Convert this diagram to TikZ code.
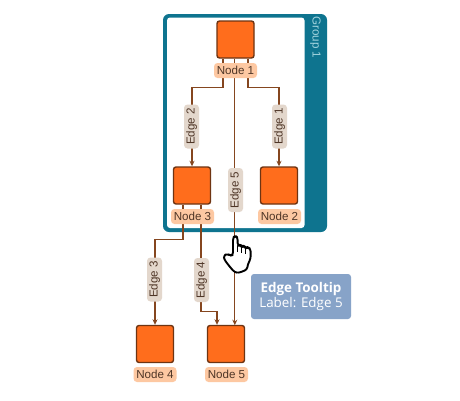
\documentclass[tikz,border=0pt]{standalone}
\usepackage{fontspec}
\setmainfont{Liberation Sans}
\newfontfamily\tipfont{Open Sans}
\usetikzlibrary{arrows.meta,calc}
\pgfdeclarelayer{grouplayer}\pgfdeclarelayer{edgelayer}\pgfdeclarelayer{toplayer}
\pgfsetlayers{grouplayer,edgelayer,main,toplayer}
\definecolor{teal1}{HTML}{0E748F}
\definecolor{teallabel}{HTML}{A3D4DE}
\definecolor{orangefill}{HTML}{FF6D1C}
\definecolor{orangeline}{HTML}{6E3412}
\definecolor{labelfill}{HTML}{FDC8A2}
\definecolor{labeltext}{HTML}{4E3526}
\definecolor{edgefill}{HTML}{E3D7CC}
\definecolor{edgeline}{HTML}{85461F}
\definecolor{tipfill}{HTML}{87A3C8}
\tikzset{
 vertexbox/.style={draw=orangeline,fill=orangefill,line width=1.4pt,rounded corners=2.5pt,minimum width=37pt,minimum height=37pt,inner sep=0pt},
 vertexlabel/.style={fill=labelfill,text=labeltext,rounded corners=3.5pt,minimum width=43pt,minimum height=15pt,inner sep=0pt,font=\fontsize{11.6}{12}\selectfont},
 edgelabel/.style={fill=edgefill,text=labeltext,rounded corners=3.5pt,rotate=90,minimum height=15pt,minimum width=44pt,inner sep=0pt,font=\fontsize{11.6}{12}\selectfont},
 link/.style={draw=edgeline,line width=1.3pt},
 linkarrow/.style={link,-{Stealth[length=5.5pt,width=5pt]}},
}
\begin{document}
\begin{tikzpicture}[x=1pt,y=-1pt]
\useasboundingbox (0,0) rectangle (460,400);
\begin{pgfonlayer}{grouplayer}
\fill[white] (0,0) rectangle (460,400);
\fill[teal1,rounded corners=6pt] (163,14) rectangle (327,232);
\fill[white,rounded corners=3pt] (167,17.5) rectangle (304.5,228);
\end{pgfonlayer}
\node[text=teallabel,rotate=-90,font=\fontsize{11.6}{12}\selectfont,inner sep=0pt] (grp) at (315.5,37.5) {Group 1};
% vertices
\node[vertexbox] (n1) at (235.5,39.5) {};
\node[vertexlabel] (l1) at (235.5,70.5) {Node 1};
\node[vertexbox] (n3) at (192,185.5) {};
\node[vertexlabel] (l3) at (192.5,216.5) {Node 3};
\node[vertexbox] (n2) at (279,185.5) {};
\node[vertexlabel] (l2) at (279.5,216.5) {Node 2};
\node[vertexbox] (n4) at (155,344) {};
\node[vertexlabel] (l4) at (155,374.5) {Node 4};
\node[vertexbox] (n5) at (226,344) {};
\node[vertexlabel] (l5) at (226.5,374.5) {Node 5};
% edge labels
\node[edgelabel] (e2) at (191.5,126.5) {Edge 2};
\node[edgelabel] (e1) at (279.5,126.5) {Edge 1};
\node[edgelabel] (e5) at (235.5,190) {Edge 5};
\node[edgelabel] (e3) at (154.5,279.5) {Edge 3};
\node[edgelabel] (e4) at (201.5,280) {Edge 4};
% connectors
\begin{pgfonlayer}{edgelayer}
\draw[linkarrow] ([xshift=-12.5pt]n1.south) -- ++(0,29) -| (n3.north);
\draw[linkarrow] ([xshift=12.5pt]n1.south) -- ++(0,29) -| (n2.north);
\draw[linkarrow] ([xshift=-0.7pt]n1.south) -- ++(0,266.5);
\draw[linkarrow] ([xshift=-9pt]n3.south) -- ++(0,35) -| (n4.north);
\draw[linkarrow] ([xshift=9pt]n3.south) -- ++(0,107) -| ([xshift=-9pt]n5.north);
\end{pgfonlayer}
% tooltip
\node[fill=tipfill,text=white,rounded corners=3pt,minimum width=100pt,minimum height=45pt,inner sep=0pt,align=center,font=\tipfont\fontsize{13.4}{15}\selectfont] (tip) at (301,296.5) {\textbf{Edge Tooltip}\\Label: Edge 5};
% hand cursor
\begin{pgfonlayer}{toplayer}
\begin{scope}[shift={(215,225)},x=0.3333pt,y=-0.3333pt]
\draw[fill=white,draw=black,line width=1.9pt,line join=round,rounded corners=2.5pt]
 (54,90) -- (54,38) -- (61,32) -- (68,38) -- (68,62) -- (76,59) -- (80,66) -- (87,62) -- (92,70) -- (99,66) -- (107,73)
 -- (107,100) -- (98,120) -- (96,134) -- (70,144) -- (58,141) -- (45,126) -- (28,104) -- (26,92) -- (36,86) -- (46,92) -- cycle;
\draw[black,line width=1.4pt] (68,62) -- (68,82) (80,66) -- (80,84) (92,70) -- (92,86);
\end{scope}
\end{pgfonlayer}
\end{tikzpicture}
\end{document}
